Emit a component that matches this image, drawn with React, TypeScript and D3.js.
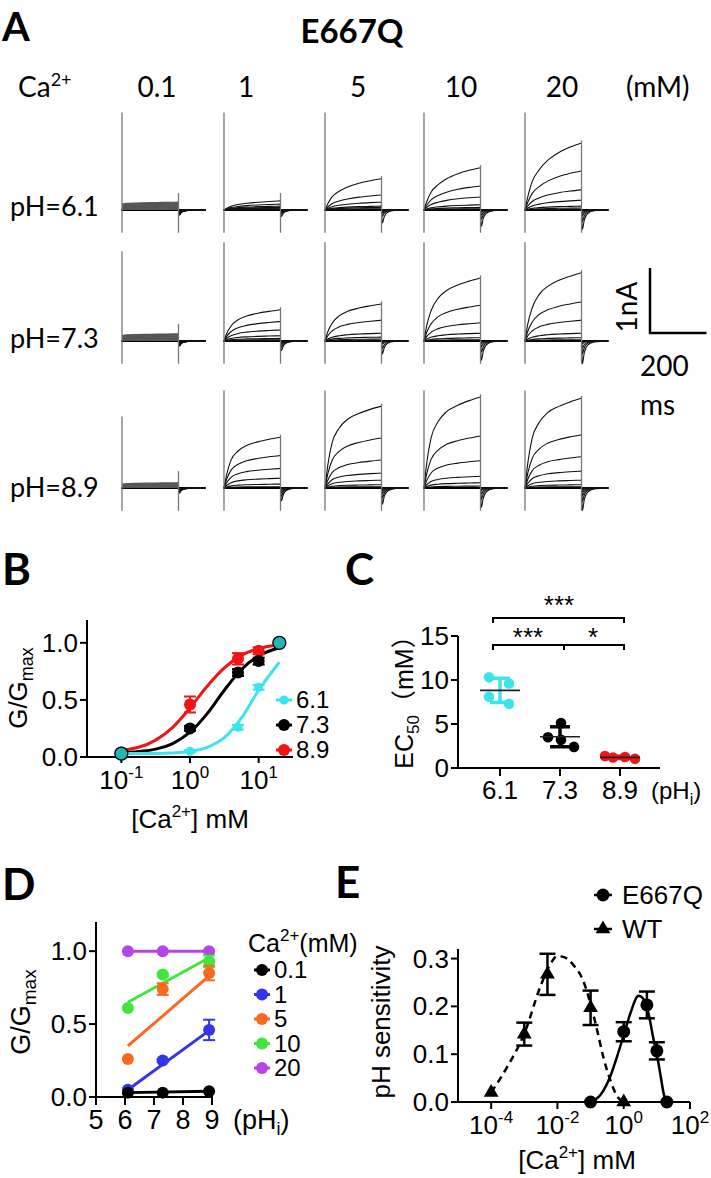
import React from "react";
import * as d3 from "d3";

// ---------- panel A : current traces ----------
const caLabels = ["0.1", "1", "5", "10", "20"];
const phLabels = ["pH=6.1", "pH=7.3", "pH=8.9"];

// time points of the 200 ms step (ms) and fraction of the end current reached
const stepTimes = [0, 10, 25, 50, 80, 120, 160, 200];
const rowShapes = [
  [0, 0.2, 0.42, 0.6, 0.74, 0.86, 0.94, 1.0],
  [0, 0.25, 0.48, 0.68, 0.8, 0.89, 0.95, 1.0],
  [0, 0.28, 0.55, 0.73, 0.84, 0.91, 0.96, 1.0],
];
const leakShape = [0.75, 0.82, 0.86, 0.89, 0.92, 0.95, 0.98, 1.0];
const tailTimes = [200, 203, 210, 222, 245, 295];
const tailShape = [0, -1, -0.5, -0.18, -0.04, 0];

// end-of-step current of each trace (nA), one list per Ca2+ column
const tracesPH61 = [
  [0.12, 0.11, 0.1, 0.09, 0.08, 0.07, 0.06, 0.05, 0.04, 0.03, 0.02, 0.01],
  [0.14, 0.09, 0.06, 0.04, 0.03, 0.02, 0.01],
  [0.48, 0.23, 0.12, 0.06, 0.04, 0.02, 0.01],
  [0.65, 0.37, 0.2, 0.08, 0.04, 0.02, 0.01],
  [1.03, 0.6, 0.31, 0.15, 0.06, 0.03, 0.01],
];
const tracesPH73 = [
  [0.11, 0.1, 0.09, 0.08, 0.07, 0.06, 0.05, 0.04, 0.03, 0.02, 0.01],
  [0.48, 0.3, 0.17, 0.08, 0.04, 0.02, 0.01],
  [0.57, 0.32, 0.12, 0.06, 0.03, 0.01],
  [0.97, 0.55, 0.28, 0.12, 0.05, 0.02],
  [1.05, 0.6, 0.32, 0.12, 0.05, 0.02],
];
const tracesPH89 = [
  [0.08, 0.07, 0.06, 0.05, 0.04, 0.03, 0.02, 0.01],
  [0.78, 0.5, 0.3, 0.15, 0.06, 0.02],
  [1.26, 0.77, 0.43, 0.23, 0.12, 0.05, 0.02],
  [1.4, 0.8, 0.42, 0.18, 0.08, 0.03],
  [1.38, 0.82, 0.48, 0.26, 0.12, 0.05, 0.02],
];
const tracesByRow = [tracesPH61, tracesPH73, tracesPH89];
// tail current dip (nA) and capacitive transient height (nA)
const tailDip = [
  [0.08, 0.1, 0.2, 0.25, 0.3],
  [0.08, 0.15, 0.2, 0.3, 0.35],
  [0.08, 0.2, 0.25, 0.3, 0.35],
];
const transientUp = [
  [1.5, 1.5, 1.5, 1.5, 1.5],
  [1.38, 1.52, 1.52, 1.52, 1.52],
  [1.1, 1.5, 1.5, 1.5, 1.5],
];

// ---------- panel B : dose response ----------
const caConc = [0.1, 1, 5, 10, 20];
const gPH61 = [0.03, 0.05, 0.26, 0.61, 1.0];
const gPH73 = [0.03, 0.25, 0.74, 0.84, 1.0];
const gPH89 = [0.04, 0.46, 0.86, 0.93, 1.0];
const errPH61 = [0, 0.01, 0.02, 0.02, 0];
const errPH73 = [0, 0.02, 0.03, 0.03, 0];
const errPH89 = [0, 0.07, 0.05, 0.03, 0];
const fitConc = [0.1, 0.316, 0.56, 1, 1.78, 3.16, 5.6, 10, 20];
const fitPH61 = [0.03, 0.031, 0.035, 0.05, 0.085, 0.17, 0.34, 0.585, 0.83];
const fitPH73 = [0.037, 0.069, 0.118, 0.217, 0.38, 0.585, 0.767, 0.886, 0.957];
const fitPH89 = [0.056, 0.148, 0.26, 0.43, 0.62, 0.78, 0.89, 0.95, 0.98];

// ---------- panel C : EC50 ----------
const phCategories = ["6.1", "7.3", "8.9"];
const ec50PH61 = [10.3, 9.6, 8.1, 7.3];
const ec50PH73 = [3.5, 5.1, 3.2, 2.4];
const ec50PH89 = [1.35, 1.2, 1.25, 1.05];

// ---------- panel D : G/Gmax vs pHi ----------
const phValues = [6.1, 7.3, 8.9];
const caSeries = ["0.1", "1", "5", "10", "20"];
const dCa01 = [0.03, 0.03, 0.04];
const dCa1 = [0.05, 0.25, 0.46];
const dCa5 = [0.26, 0.74, 0.85];
const dCa10 = [0.61, 0.84, 0.93];
const dCa20 = [1.0, 1.0, 1.0];
const dErr01 = [0, 0, 0];
const dErr1 = [0, 0.01, 0.07];
const dErr5 = [0, 0.04, 0.05];
const dErr10 = [0, 0.01, 0.04];
const dErr20 = [0, 0, 0];
// linear fit, value at pHi 6.1 and 8.9
const dFit01 = [0.03, 0.04];
const dFit1 = [0.05, 0.455];
const dFit5 = [0.35, 0.83];
const dFit10 = [0.65, 0.955];
const dFit20 = [1.0, 1.0];

// ---------- panel E : pH sensitivity ----------
const e667qConc = [0.1, 1, 5, 10, 20];
const e667qSens = [0.0, 0.147, 0.203, 0.107, 0.0];
const e667qErr = [0, 0.02, 0.028, 0.018, 0];
const wtConc = [0.0001, 0.001, 0.005, 0.1, 1];
const wtSens = [0.02, 0.142, 0.267, 0.197, 0.0];
const wtErr = [0, 0.024, 0.043, 0.036, 0];
const e667qFitConc = [0.1, 0.2, 0.4, 0.63, 1, 1.58, 2.8, 4, 5.6, 8, 10, 12.6, 15.8, 18.6];
const e667qFit = [0, 0.015, 0.055, 0.095, 0.14, 0.185, 0.222, 0.215, 0.185, 0.13, 0.1, 0.06, 0.02, 0];
const wtFitConc = [0.0001, 0.000316, 0.001, 0.00316, 0.0063, 0.01, 0.0158, 0.0316, 0.0589, 0.1, 0.158, 0.251, 0.398, 0.631, 1];
const wtFit = [0.02, 0.075, 0.143, 0.244, 0.29, 0.305, 0.303, 0.285, 0.255, 0.205, 0.15, 0.09, 0.045, 0.012, 0];

const FONT = "'Liberation Sans', Arial, sans-serif";
const FONT_A = "Lato, 'Open Sans', sans-serif";
const CYAN = "#3de4ee";
const RED = "#f01414";

function Sup({ text, dy = 11, size = 17, after }) {
  return (
    <>
      <tspan dy={-dy} fontSize={size}>{text}</tspan>
      <tspan dy={dy}>{after}</tspan>
    </>
  );
}

// ---------------- panel A ----------------
const tScale = d3.scaleLinear().domain([0, 200]).range([0, 56.5]);
const iScale = d3.scaleLinear().domain([0, 1]).range([0, -65]);
const traceLine = d3
  .line()
  .x(d => tScale(d[0]))
  .y(d => iScale(d[1]))
  .curve(d3.curveMonotoneX);

function TraceCell({ traces, shape, dip, up }) {
  const top = traces[0];
  const rightTop = Math.max(top + 0.04, 0.26);
  return (
    <g>
      <line x1={tScale(-3)} x2={tScale(295)} y1={0} y2={0} stroke="#000" strokeWidth={2} />
      {traces.map((amp, k) => (
        <path
          key={"s" + k}
          d={traceLine(stepTimes.map((t, j) => [t, amp * shape[j]]))}
          fill="none"
          stroke={shape === leakShape ? "#555" : "#111"}
          strokeWidth={shape === leakShape ? 1.2 : 1.1}
        />
      ))}
      {traces.map((amp, k) => (
        <path
          key={"t" + k}
          d={traceLine(tailTimes.map((t, j) => [t, (dip * amp) / top * tailShape[j]]))}
          fill="none"
          stroke="#111"
          strokeWidth={1.1}
        />
      ))}
      <line x1={0} x2={0} y1={iScale(up)} y2={iScale(-0.35)} stroke="#777" strokeWidth={1.3} />
      <line x1={tScale(200)} x2={tScale(200)} y1={iScale(rightTop)} y2={iScale(-0.35)} stroke="#777" strokeWidth={1.3} />
    </g>
  );
}

function PanelA() {
  const colX = [122, 224, 325, 424, 525];
  const rowY = [210, 341, 488];
  const labelX = [157, 246, 358, 461, 562];
  const phBase = [216, 348, 497];
  return (
    <g fontFamily={FONT_A}>
      <text x={2} y={41} fontSize={40} fontWeight="bold">A</text>
      <text x={352} y={43} fontSize={33} fontWeight="bold" textAnchor="middle">E667Q</text>
      <text x={18} y={97} fontSize={28}>
        Ca<Sup text="2+" dy={11} size={18} after="" />
      </text>
      {caLabels.map((c, i) => (
        <text key={c} x={labelX[i]} y={97} fontSize={28} textAnchor="middle">{c}</text>
      ))}
      <text x={626} y={97} fontSize={28}>(mM)</text>
      {phLabels.map((p, r) => (
        <text key={p} x={10} y={phBase[r]} fontSize={27}>{p}</text>
      ))}
      {tracesByRow.map((row, r) =>
        row.map((traces, c) => (
          <g key={r + "-" + c} transform={`translate(${colX[c]},${rowY[r]})`}>
            <TraceCell
              traces={traces}
              shape={c === 0 ? leakShape : rowShapes[r]}
              dip={tailDip[r][c]}
              up={transientUp[r][c]}
            />
          </g>
        ))
      )}
      {/* scale bar */}
      <g transform="translate(650,333)">
        <line x1={0} x2={0} y1={iScale(1)} y2={1} stroke="#000" strokeWidth={2.5} />
        <line x1={-1} x2={tScale(200)} y1={0} y2={0} stroke="#000" strokeWidth={2.5} />
      </g>
      <text transform="translate(637,307) rotate(-90)" fontSize={28} textAnchor="middle">1nA</text>
      <text x={640} y={376} fontSize={28}>200</text>
      <text x={640} y={415} fontSize={28}>ms</text>
    </g>
  );
}

// ---------------- helpers for B-E ----------------
function ErrBar({ x, y0, y1, w, color, sw = 2 }) {
  return (
    <g stroke={color} strokeWidth={sw}>
      <line x1={x} x2={x} y1={y0} y2={y1} />
      <line x1={x - w} x2={x + w} y1={y0} y2={y0} />
      <line x1={x - w} x2={x + w} y1={y1} y2={y1} />
    </g>
  );
}

function YAxis({ scale, x, ticks, fmt, top }) {
  return (
    <g>
      <line x1={x} x2={x} y1={top} y2={scale(0)} stroke="#000" strokeWidth={2} />
      {ticks.map(t => (
        <g key={t}>
          <line x1={x - 7} x2={x} y1={scale(t)} y2={scale(t)} stroke="#000" strokeWidth={2} />
          <text x={x - 9} y={scale(t) + 9} fontSize={26} textAnchor="end">{fmt(t)}</text>
        </g>
      ))}
    </g>
  );
}

// ---------------- panel B ----------------
function PanelB() {
  const x = d3.scaleLog().domain([10 ** -1.5, 10 ** 1.5]).range([87, 293]);
  const y = d3.scaleLinear().domain([0, 1.2]).range([757, 620]);
  const line = d3
    .line()
    .x(d => x(d[0]))
    .y(d => y(d[1]))
    .curve(d3.curveMonotoneX);
  const series = [
    { label: "8.9", vals: gPH89, err: errPH89, fit: fitPH89, color: RED, r: 6 },
    { label: "7.3", vals: gPH73, err: errPH73, fit: fitPH73, color: "#000", r: 6 },
    { label: "6.1", vals: gPH61, err: errPH61, fit: fitPH61, color: CYAN, r: 4.5 },
  ];
  const legendOrder = [series[2], series[1], series[0]];
  const fmt = d3.format(".1f");
  return (
    <g fontFamily={FONT}>
      <text x={2} y={585} fontSize={44} fontWeight="bold" fontFamily={FONT_A}>B</text>
      <YAxis scale={y} x={87} ticks={[0, 0.5, 1.0]} fmt={fmt} top={620} />
      <line x1={80} x2={293} y1={757} y2={757} stroke="#000" strokeWidth={2} />
      {[-1, 0, 1].map(e => (
        <g key={e}>
          <line x1={x(10 ** e)} x2={x(10 ** e)} y1={757} y2={763} stroke="#000" strokeWidth={2} />
          <text x={x(10 ** e)} y={789} fontSize={26} textAnchor="middle">
            10<Sup text={String(e)} after="" />
          </text>
        </g>
      ))}
      <text x={190} y={828} fontSize={26} textAnchor="middle">
        [Ca<Sup text="2+" after="] mM" />
      </text>
      <text transform="translate(27,688) rotate(-90)" fontSize={26} textAnchor="middle">
        G/G<tspan dy={6} fontSize={18}>max</tspan>
      </text>
      {series.map(s => (
        <path key={"f" + s.label} d={line(fitConc.map((c, i) => [c, s.fit[i]]))} fill="none" stroke={s.color} strokeWidth={3} />
      ))}
      {series.map(s => (
        <g key={"p" + s.label}>
          {caConc.map((c, i) => (
            <g key={i}>
              {s.err[i] > 0 && (
                <ErrBar x={x(c)} y0={y(s.vals[i] + s.err[i])} y1={y(s.vals[i] - s.err[i])} w={6} color={s.color} />
              )}
              <circle cx={x(c)} cy={y(s.vals[i])} r={s.r} fill={s.color} />
            </g>
          ))}
        </g>
      ))}
      {caConc.map((c, i) =>
        gPH61[i] === gPH73[i] ? (
          <circle key={"o" + i} cx={x(c)} cy={y(gPH61[i])} r={6.5} fill="#22b6b6" stroke="#000" strokeWidth={1.3} />
        ) : null
      )}
      {legendOrder.map((s, k) => {
        const ly = 700 + k * 25;
        return (
          <g key={"l" + s.label}>
            <line x1={276} x2={292} y1={ly} y2={ly} stroke={s.color} strokeWidth={3} />
            <circle cx={284} cy={ly} r={s.r} fill={s.color} />
            <text x={296} y={ly + 8} fontSize={24}>{s.label}</text>
          </g>
        );
      })}
    </g>
  );
}

// ---------------- panel C ----------------
function PanelC() {
  const x = d3.scalePoint().domain(phCategories).range([500, 620]);
  const y = d3.scaleLinear().domain([0, 15]).range([768, 636]);
  const groups = [
    { cat: "6.1", vals: ec50PH61, color: CYAN, jit: [-11, 9, -11, 9] },
    { cat: "7.3", vals: ec50PH73, color: "#000", jit: [-12, 1, 1, 14] },
    { cat: "8.9", vals: ec50PH89, color: RED, jit: [-15, -7, 5, 15] },
  ];
  const xa = x("6.1"), xb = x("7.3"), xc = x("8.9");
  return (
    <g fontFamily={FONT}>
      <text x={345} y={585} fontSize={44} fontWeight="bold" fontFamily={FONT_A}>C</text>
      <YAxis scale={y} x={458} ticks={[0, 5, 10, 15]} fmt={d3.format("d")} top={636} />
      <line x1={458} x2={660} y1={768} y2={768} stroke="#000" strokeWidth={2} />
      {phCategories.map(c => (
        <g key={c}>
          <line x1={x(c)} x2={x(c)} y1={768} y2={776} stroke="#000" strokeWidth={2} />
          <text x={x(c)} y={799} fontSize={26} textAnchor="middle">{c}</text>
        </g>
      ))}
      <text x={651} y={799} fontSize={24}>
        (pH<tspan dy={6} fontSize={16}>i</tspan><tspan dy={-6}>)</tspan>
      </text>
      <text transform="translate(413,696) rotate(-90)" fontSize={25} textAnchor="middle" fontFamily={"'Liberation Sans', 'Noto Sans CJK SC', sans-serif"}>
        EC<tspan dy={6} fontSize={17}>50</tspan><tspan dy={-6}>（mM）</tspan>
      </text>
      {groups.map(g => {
        const m = d3.mean(g.vals);
        const sd = d3.deviation(g.vals);
        const cx = x(g.cat);
        return (
          <g key={g.cat}>
            {g.vals.map((v, i) => (
              <circle key={i} cx={cx + g.jit[i]} cy={y(v)} r={5.3} fill={g.color} />
            ))}
            <ErrBar x={cx} y0={y(m + sd)} y1={y(m - sd)} w={10} color={g.color} sw={3.5} />
            <line x1={cx - 20} x2={cx + 20} y1={y(m)} y2={y(m)} stroke="#222" strokeWidth={1.6} />
          </g>
        );
      })}
      {/* significance brackets */}
      <g stroke="#000" strokeWidth={2} fill="none">
        <path d={`M${xa - 7},623 V618 H${xc + 4} V623`} />
        <path d={`M${xa - 7},650 V645 H${xc + 4} V650`} />
        <line x1={xb + 4} x2={xb + 4} y1={645} y2={650} />
      </g>
      <text x={559} y={614} fontSize={26} textAnchor="middle">***</text>
      <text x={528} y={646} fontSize={26} textAnchor="middle">***</text>
      <text x={593} y={646} fontSize={26} textAnchor="middle">*</text>
    </g>
  );
}

// ---------------- panel D ----------------
function PanelD() {
  const x = d3.scaleLinear().domain([5, 9]).range([96, 212]);
  const y = d3.scaleLinear().domain([0, 1.2]).range([1097, 922]);
  const colors = ["#000", "#3434e8", "#fa6a1e", "#3ee63e", "#b445e6"];
  const vals = [dCa01, dCa1, dCa5, dCa10, dCa20];
  const errs = [dErr01, dErr1, dErr5, dErr10, dErr20];
  const fits = [dFit01, dFit1, dFit5, dFit10, dFit20];
  const drawOrder = [4, 3, 2, 1, 0];
  const fmt = d3.format(".1f");
  return (
    <g fontFamily={FONT}>
      <text x={2} y={900} fontSize={44} fontWeight="bold" fontFamily={FONT_A}>D</text>
      <YAxis scale={y} x={96} ticks={[0, 0.5, 1.0]} fmt={fmt} top={922} />
      <line x1={96} x2={213} y1={1097} y2={1097} stroke="#000" strokeWidth={2} />
      {[5, 6, 7, 8, 9].map(t => (
        <g key={t}>
          <line x1={x(t)} x2={x(t)} y1={1097} y2={1105} stroke="#000" strokeWidth={2} />
          <text x={x(t)} y={1129} fontSize={27} textAnchor="middle">{t}</text>
        </g>
      ))}
      <text x={233} y={1129} fontSize={27}>
        (pH<tspan dy={6} fontSize={18}>i</tspan><tspan dy={-6}>)</tspan>
      </text>
      <text transform="translate(30,1012) rotate(-90)" fontSize={27} textAnchor="middle">
        G/G<tspan dy={6} fontSize={19}>max</tspan>
      </text>
      {drawOrder.map(k => (
        <g key={k}>
          <line x1={x(phValues[0])} x2={x(phValues[2])} y1={y(fits[k][0])} y2={y(fits[k][1])} stroke={colors[k]} strokeWidth={3} />
          {phValues.map((p, i) => (
            <g key={i}>
              {errs[k][i] > 0 && (
                <ErrBar x={x(p)} y0={y(vals[k][i] + errs[k][i])} y1={y(vals[k][i] - errs[k][i])} w={6} color={colors[k]} />
              )}
              <circle cx={x(p)} cy={y(vals[k][i])} r={6} fill={colors[k]} />
            </g>
          ))}
        </g>
      ))}
      <text x={248} y={952} fontSize={25}>
        Ca<Sup text="2+" after="(mM)" />
      </text>
      {caSeries.map((c, k) => {
        const ly = 970 + k * 24.5;
        return (
          <g key={c}>
            <line x1={254} x2={270} y1={ly} y2={ly} stroke={colors[k]} strokeWidth={3} />
            <circle cx={262} cy={ly} r={6} fill={colors[k]} />
            <text x={274} y={ly + 8} fontSize={24}>{c}</text>
          </g>
        );
      })}
    </g>
  );
}

// ---------------- panel E ----------------
function PanelE() {
  const x = d3.scaleLog().domain([1e-5, 1e2]).range([458, 690]);
  const y = d3.scaleLinear().domain([0, 0.32]).range([1102, 949]);
  const line = d3
    .line()
    .x(d => x(d[0]))
    .y(d => y(d[1]))
    .curve(d3.curveMonotoneX);
  const tri = d3.symbol(d3.symbolTriangle, 95)();
  const fmt = d3.format(".1f");
  return (
    <g fontFamily={FONT}>
      <text x={335} y={898} fontSize={44} fontWeight="bold" fontFamily={FONT_A}>E</text>
      <YAxis scale={y} x={458} ticks={[0, 0.1, 0.2, 0.3]} fmt={fmt} top={949} />
      <line x1={458} x2={690} y1={1102} y2={1102} stroke="#000" strokeWidth={2} />
      {[-4, -2, 0, 2].map(e => (
        <g key={e}>
          <line x1={x(10 ** e)} x2={x(10 ** e)} y1={1102} y2={1109} stroke="#000" strokeWidth={2} />
          <text x={x(10 ** e)} y={1134} fontSize={26} textAnchor="middle">
            10<Sup text={String(e)} after="" />
          </text>
        </g>
      ))}
      <text x={577} y={1169} fontSize={26} textAnchor="middle">
        [Ca<Sup text="2+" after="] mM" />
      </text>
      <text transform="translate(390,1022) rotate(-90)" fontSize={26} textAnchor="middle">pH sensitivity</text>
      <path d={line(wtFitConc.map((c, i) => [c, wtFit[i]]))} fill="none" stroke="#000" strokeWidth={2.5} strokeDasharray="7,5" />
      <path d={line(e667qFitConc.map((c, i) => [c, e667qFit[i]]))} fill="none" stroke="#000" strokeWidth={2.5} />
      {wtConc.map((c, i) => (
        <g key={"w" + i}>
          {wtErr[i] > 0 && <ErrBar x={x(c)} y0={y(wtSens[i] + wtErr[i])} y1={y(wtSens[i] - wtErr[i])} w={8} color="#000" sw={2.5} />}
          <path d={tri} transform={`translate(${x(c)},${y(wtSens[i])})`} fill="#000" />
        </g>
      ))}
      {e667qConc.map((c, i) => (
        <g key={"e" + i}>
          {e667qErr[i] > 0 && (
            <ErrBar x={x(c)} y0={y(e667qSens[i] + e667qErr[i])} y1={y(e667qSens[i] - e667qErr[i])} w={8} color="#000" sw={2.5} />
          )}
          <circle cx={x(c)} cy={y(e667qSens[i])} r={6.5} fill="#000" />
        </g>
      ))}
      <line x1={594} x2={612} y1={895} y2={895} stroke="#000" strokeWidth={2.5} />
      <circle cx={603} cy={895} r={6.5} fill="#000" />
      <text x={622} y={904} fontSize={26}>E667Q</text>
      <line x1={594} x2={612} y1={929} y2={929} stroke="#000" strokeWidth={2.5} />
      <path d={tri} transform="translate(603,929)" fill="#000" />
      <text x={622} y={938} fontSize={26}>WT</text>
    </g>
  );
}

export default function App() {
  return (
    <svg width={711} height={1178} style={{ position: "absolute", left: 0, top: 0 }}>
      <rect width={711} height={1178} fill="#fff" />
      <PanelA />
      <PanelB />
      <PanelC />
      <PanelD />
      <PanelE />
    </svg>
  );
}
